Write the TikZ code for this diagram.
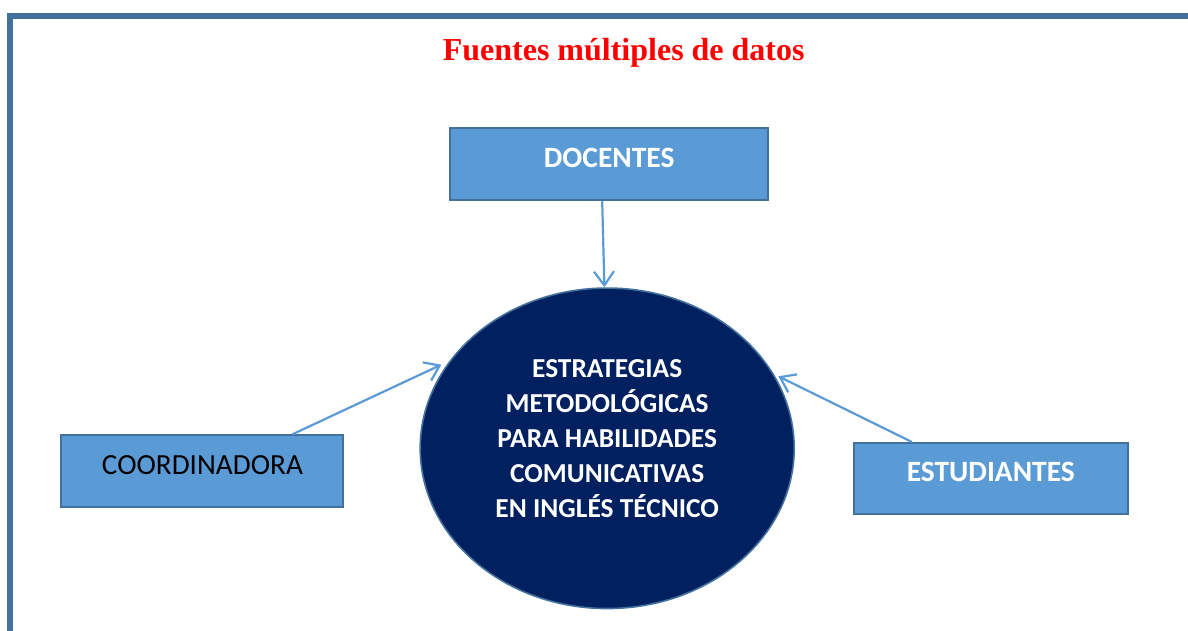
\documentclass[tikz,border=0pt]{standalone}
\usepackage{fontspec}
\setmainfont{Carlito}
\newfontfamily\titlefont{Liberation Serif}
\usepackage{xcolor}
\usepackage{tikz}
\usetikzlibrary{shapes.geometric, arrows.meta, positioning}
\definecolor{cajaazul}{RGB}{91,155,213}
\definecolor{bordeazul}{RGB}{65,113,156}
\definecolor{azuloscuro}{RGB}{0,32,96}
\tikzset{fuente/.style={rectangle,draw=bordeazul,line width=2pt,fill=cajaazul,minimum height=72pt,text height=20pt,text depth=14pt,font=\fontsize{29.5}{35}\selectfont\bfseries,text=white},
         estrategia/.style={ellipse,draw=bordeazul,line width=1.6pt,fill=azuloscuro,minimum width=374pt,minimum height=320.5pt,inner sep=0pt},
         estrtexto/.style={align=center,text=white,font=\fontsize{27.4}{35}\selectfont\bfseries,inner sep=0pt},
         titulo/.style={text=red,font=\titlefont\fontsize{32}{38}\selectfont\bfseries},
         flecha/.style={-{Straight Barb[length=14pt,width=20pt]},line width=2.2pt,draw=cajaazul},
         marco/.style={draw=bordeazul,line width=5.5pt}}

\begin{document}
\begin{tikzpicture}[x=1pt,y=1pt]
    \useasboundingbox (0,0) rectangle (1188,630);
    % marco de la pagina
    \draw[marco] (10,-5) -- (10,614) -- (1195,614);
    \node (tit) [titulo, anchor=base] at (623.7,569) {Fuentes múltiples de datos};
    \node (estr) [estrategia] at (607.2,181.7) {};
    \node (estrlabel) [estrtexto] at ([yshift=9.6pt]estr.center) {ESTRATEGIAS\\METODOLÓGICAS\\PARA HABILIDADES\\COMUNICATIVAS\\EN INGLÉS TÉCNICO};
    \node (doc) [fuente, minimum width=318pt, above=86pt of estr, xshift=2pt] {DOCENTES};
    \node (coord) [fuente, minimum width=282pt, left=75pt of estr, yshift=-23pt, font=\fontsize{29.2}{35}\selectfont, text=black] {COORDINADORA};
    \node (est) [fuente, minimum width=273.6pt, minimum height=70.7pt, right=58pt of estr, yshift=-30pt] {ESTUDIANTES};
    % flechas hacia la elipse
    \draw[flecha] ([xshift=-7pt]doc.south) -- (estr.91);
    \draw[flecha, shorten >=9pt] ([xshift=90pt]coord.north) -- (estr.151);
    \draw[flecha, shorten >=5pt] ([xshift=-79pt]est.north) -- (estr.24);
\end{tikzpicture}
\end{document}
